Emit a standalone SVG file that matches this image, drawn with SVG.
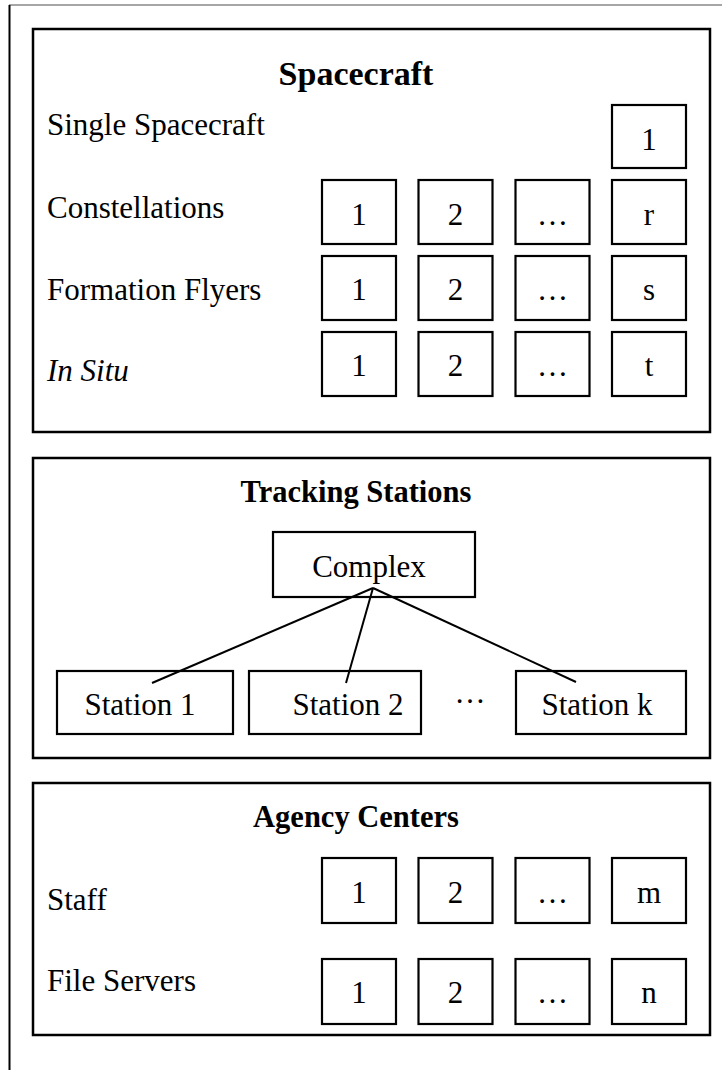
<svg xmlns="http://www.w3.org/2000/svg" width="722" height="1070" viewBox="0 0 722 1070">
<style>
text{font-family:"Liberation Serif","Times New Roman",serif;font-size:31px;fill:#000}
.t{font-weight:bold;text-anchor:middle;font-size:30.5px}
.c{text-anchor:middle}
.sec{fill:#fff;stroke:#000;stroke-width:2.5}
.bx{fill:#fff;stroke:#000;stroke-width:2.2}
.ln{stroke:#000;stroke-width:2;fill:none}
</style>
<rect x="0" y="0" width="722" height="1070" fill="#fff"/>
<line x1="9" y1="5" x2="722" y2="5" stroke="#888" stroke-width="1.5"/>
<line x1="9.5" y1="5" x2="9.5" y2="1070" stroke="#000" stroke-width="2"/>

<g id="spacecraft">
<rect class="sec" x="33" y="29" width="677" height="403"/>
<text class="t" x="356" y="85" style="font-size:34px">Spacecraft</text>
<text x="47" y="135">Single Spacecraft</text>
<text x="47" y="218">Constellations</text>
<text x="47" y="300">Formation Flyers</text>
<text x="47" y="381" font-style="italic">In Situ</text>
</g>
<g id="sc-single-1"><rect class="bx" x="612" y="105" width="74" height="63"/><text class="c" x="649" y="150">1</text></g>
<g id="sc-const-1"><rect class="bx" x="322" y="180" width="74" height="64"/><text class="c" x="359" y="225">1</text></g>
<g id="sc-const-2"><rect class="bx" x="418.5" y="180" width="74" height="64"/><text class="c" x="455.5" y="225">2</text></g>
<g id="sc-const-dots"><rect class="bx" x="515.5" y="180" width="74" height="64"/><text class="c" x="552.5" y="225">…</text></g>
<g id="sc-const-r"><rect class="bx" x="612" y="180" width="74" height="64"/><text class="c" x="649" y="225">r</text></g>
<g id="sc-form-1"><rect class="bx" x="322" y="256" width="74" height="64"/><text class="c" x="359" y="300">1</text></g>
<g id="sc-form-2"><rect class="bx" x="418.5" y="256" width="74" height="64"/><text class="c" x="455.5" y="300">2</text></g>
<g id="sc-form-dots"><rect class="bx" x="515.5" y="256" width="74" height="64"/><text class="c" x="552.5" y="300">…</text></g>
<g id="sc-form-s"><rect class="bx" x="612" y="256" width="74" height="64"/><text class="c" x="649" y="300">s</text></g>
<g id="sc-insitu-1"><rect class="bx" x="322" y="332" width="74" height="64"/><text class="c" x="359" y="376">1</text></g>
<g id="sc-insitu-2"><rect class="bx" x="418.5" y="332" width="74" height="64"/><text class="c" x="455.5" y="376">2</text></g>
<g id="sc-insitu-dots"><rect class="bx" x="515.5" y="332" width="74" height="64"/><text class="c" x="552.5" y="376">…</text></g>
<g id="sc-insitu-t"><rect class="bx" x="612" y="332" width="74" height="64"/><text class="c" x="649" y="376">t</text></g>

<g id="tracking">
<rect class="sec" x="33" y="458" width="677" height="300"/>
<text class="t" x="356" y="502">Tracking Stations</text>
<text class="c" x="470" y="703">…</text>
</g>
<g id="complex"><rect class="bx" x="273" y="532" width="202" height="65"/><text class="c" x="369" y="577">Complex</text></g>
<g id="station1"><rect class="bx" x="57" y="671" width="176" height="63"/><text class="c" x="140" y="715">Station 1</text></g>
<g id="station2"><rect class="bx" x="249" y="671" width="172" height="63"/><text class="c" x="348" y="715">Station 2</text></g>
<g id="stationk"><rect class="bx" x="516" y="671" width="170" height="63"/><text class="c" x="597" y="715">Station k</text></g>

<g id="connectors">
<line class="ln" x1="373" y1="588" x2="152" y2="683"/>
<line class="ln" x1="373" y1="588" x2="346" y2="683"/>
<line class="ln" x1="373" y1="588" x2="576" y2="682"/>
</g>

<g id="agency">
<rect class="sec" x="33" y="783" width="677" height="252"/>
<text class="t" x="356" y="827">Agency Centers</text>
<text x="47" y="910">Staff</text>
<text x="47" y="991">File Servers</text>
</g>
<g id="ag-staff-1"><rect class="bx" x="322" y="858" width="74" height="65"/><text class="c" x="359" y="903">1</text></g>
<g id="ag-staff-2"><rect class="bx" x="418.5" y="858" width="74" height="65"/><text class="c" x="455.5" y="903">2</text></g>
<g id="ag-staff-dots"><rect class="bx" x="515.5" y="858" width="74" height="65"/><text class="c" x="552.5" y="903">…</text></g>
<g id="ag-staff-m"><rect class="bx" x="612" y="858" width="74" height="65"/><text class="c" x="649" y="903">m</text></g>
<g id="ag-fs-1"><rect class="bx" x="322" y="959" width="74" height="65"/><text class="c" x="359" y="1003">1</text></g>
<g id="ag-fs-2"><rect class="bx" x="418.5" y="959" width="74" height="65"/><text class="c" x="455.5" y="1003">2</text></g>
<g id="ag-fs-dots"><rect class="bx" x="515.5" y="959" width="74" height="65"/><text class="c" x="552.5" y="1003">…</text></g>
<g id="ag-fs-n"><rect class="bx" x="612" y="959" width="74" height="65"/><text class="c" x="649" y="1003">n</text></g>
</svg>
